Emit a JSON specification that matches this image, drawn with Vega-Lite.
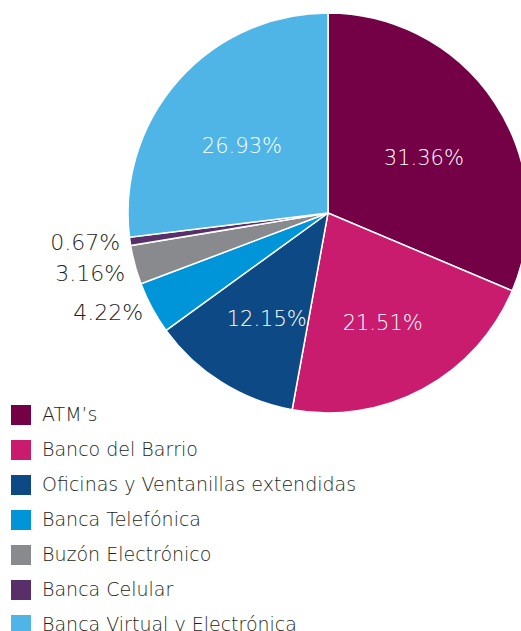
{
  "$schema": "https://vega.github.io/schema/vega-lite/v6.json",
  "width": 400,
  "height": 400,
  "autosize": {"type": "none"},
  "padding": {"left": 128, "top": 13, "right": -7, "bottom": 218},
  "background": "white",
  "config": {"view": {"stroke": null}, "font": "DejaVu Sans"},
  "data": {
    "values": [
      {"canal": "ATM’s", "pct": 31.36, "orden": 1, "label": "31.36%", "pos": "in"},
      {"canal": "Banco del Barrio", "pct": 21.51, "orden": 2, "label": "21.51%", "pos": "in"},
      {"canal": "Oficinas y Ventanillas extendidas", "pct": 12.15, "orden": 3, "label": "12.15%", "pos": "in"},
      {"canal": "Banca Telefónica", "pct": 4.22, "orden": 4, "label": "4.22%", "pos": "out"},
      {"canal": "Buzón Electrónico", "pct": 3.16, "orden": 5, "label": "3.16%", "pos": "out"},
      {"canal": "Banca Celular", "pct": 0.67, "orden": 6, "label": "0.67%", "pos": "out"},
      {"canal": "Banca Virtual y Electrónica", "pct": 26.93, "orden": 7, "label": "26.93%", "pos": "in"}
    ]
  },
  "encoding": {
    "theta": {"field": "pct", "type": "quantitative", "stack": true},
    "order": {"field": "orden", "type": "quantitative"}
  },
  "layer": [
    {
      "mark": {"type": "arc", "stroke": "white", "strokeWidth": 1.5, "radius": 200},
      "encoding": {
        "color": {
          "field": "canal",
          "type": "nominal",
          "sort": ["ATM’s", "Banco del Barrio", "Oficinas y Ventanillas extendidas", "Banca Telefónica", "Buzón Electrónico", "Banca Celular", "Banca Virtual y Electrónica"],
          "scale": {
            "domain": ["ATM’s", "Banco del Barrio", "Oficinas y Ventanillas extendidas", "Banca Telefónica", "Buzón Electrónico", "Banca Celular", "Banca Virtual y Electrónica"],
            "range": ["#740046", "#c91c6e", "#0d4a85", "#0095d8", "#898a8e", "#582f69", "#4eb5e6"]
          },
          "legend": {
            "title": null,
            "orient": "none",
            "legendX": -117,
            "legendY": 392,
            "symbolType": "square",
            "symbolSize": 400,
            "symbolStrokeWidth": 0,
            "labelFontSize": 19,
            "labelFont": "DejaVu Sans",
            "labelFontWeight": 200,
            "labelColor": "#231f20",
            "labelOffset": 11,
            "rowPadding": 15,
            "labelLimit": 400
          }
        }
      }
    },
    {
      "mark": {"type": "text", "radius": 115, "dy": 10, "fontSize": 21, "font": "DejaVu Sans", "fontWeight": 200, "color": "white", "align": "center", "baseline": "middle"},
      "encoding": {"text": {"condition": {"test": "datum.pos == 'in'", "field": "label"}, "value": ""}}
    },
    {
      "mark": {"type": "text", "radius": 210, "fontSize": 22, "font": "DejaVu Sans", "fontWeight": 200, "color": "#231f20", "align": "right", "baseline": "middle"},
      "encoding": {"text": {"condition": {"test": "datum.orden == 4 || datum.orden == 6", "field": "label"}, "value": ""}}
    },
    {
      "mark": {"type": "text", "radius": 210, "dy": 6, "fontSize": 22, "font": "DejaVu Sans", "fontWeight": 200, "color": "#231f20", "align": "right", "baseline": "middle"},
      "encoding": {"text": {"condition": {"test": "datum.orden == 5", "field": "label"}, "value": ""}}
    }
  ]
}
